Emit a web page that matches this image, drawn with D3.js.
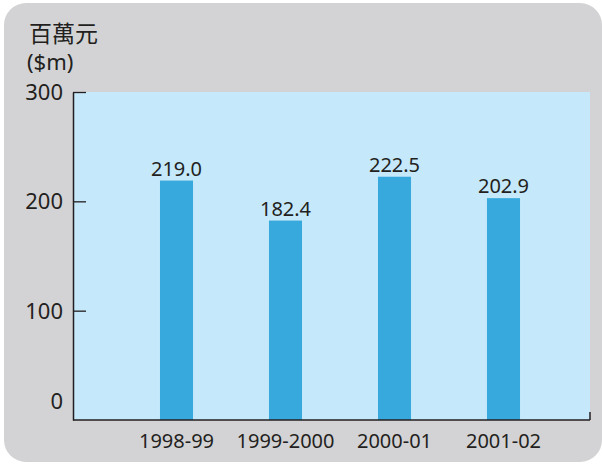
<!DOCTYPE html>
<html>
<head>
<meta charset="utf-8">
<script src="https://cdn.jsdelivr.net/npm/d3@7"></script>
<style>
  body { margin: 0; background: #fff; }
  text { font-family: "Noto Sans", "Noto Sans CJK TC", sans-serif; fill: #231f20; }
</style>
</head>
<body>
<div id="chart"></div>
<script>
const years = ["1998-99", "1999-2000", "2000-01", "2001-02"];
const spending = [219.0, 182.4, 222.5, 202.9];
const yTicks = [0, 100, 200, 300];

const width = 602, height = 464;

const svg = d3.select("#chart")
	.append("svg")
		.attr("width", width)
		.attr("height", height);

// grey rounded card
svg.append("rect")
	.attr("x", 4).attr("y", 3)
	.attr("width", 598).attr("height", 459)
	.attr("rx", 22)
	.attr("fill", "#d3d3d5");

const plot = {left: 73, right: 590, top: 92, bottom: 420};

const y = d3.scaleLinear()
	.domain([0, 300])
	.range([plot.bottom, plot.top]);

const x = d3.scaleBand()
	.domain(years)
	.range([122, 558])
	.paddingInner(0.697)
	.paddingOuter(0.3485);

// plot background
svg.append("rect")
	.attr("x", plot.left).attr("y", plot.top)
	.attr("width", plot.right - plot.left)
	.attr("height", plot.bottom - plot.top)
	.attr("fill", "#c5e8fa");

// bars
svg.selectAll(".bar")
	.data(spending)
	.enter()
	.append("rect")
		.attr("class", "bar")
		.attr("x", (d, i) => x(years[i]))
		.attr("y", d => y(d))
		.attr("width", x.bandwidth())
		.attr("height", d => y(0) - y(d))
		.attr("fill", "#38a9dc");

// value labels
svg.selectAll(".val")
	.data(spending)
	.enter()
	.append("text")
		.attr("x", (d, i) => x(years[i]) + x.bandwidth() / 2)
		.attr("y", d => y(d) - 5)
		.attr("text-anchor", "middle")
		.style("font-size", "20px")
		.text(d => d.toFixed(1));

// y axis (ticks pointing into the plot)
const yAxis = svg.append("g")
	.attr("transform", "translate(" + plot.left + ",0)")
	.call(d3.axisRight(y).tickValues(yTicks).tickSize(13).tickSizeOuter(0).tickFormat(""));
yAxis.select(".domain").attr("stroke", "#231f20").attr("stroke-width", 1.5);
yAxis.selectAll(".tick line").attr("stroke", "#231f20").attr("stroke-width", 1.3);
yAxis.selectAll(".tick").filter(d => d === 0).remove();

// y labels
svg.selectAll(".ylab")
	.data(yTicks)
	.enter()
	.append("text")
		.attr("x", 63)
		.attr("y", d => d === 0 ? y(d) - 11 : y(d) + 8)
		.attr("text-anchor", "end")
		.style("font-size", "22px")
		.text(d => d);

// x axis
svg.append("line")
	.attr("x1", plot.left).attr("x2", plot.right)
	.attr("y1", plot.bottom).attr("y2", plot.bottom)
	.attr("stroke", "#231f20").attr("stroke-width", 1.5);
svg.append("line")
	.attr("x1", plot.right).attr("x2", plot.right)
	.attr("y1", plot.bottom).attr("y2", plot.bottom - 8)
	.attr("stroke", "#231f20").attr("stroke-width", 1.5);

svg.selectAll(".xlab")
	.data(years)
	.enter()
	.append("text")
		.attr("x", d => x(d) + x.bandwidth() / 2)
		.attr("y", 448)
		.attr("text-anchor", "middle")
		.style("font-size", "20px")
		.text(d => d);

// unit title
svg.append("text")
	.attr("x", 29).attr("y", 42)
	.style("font-size", "23px")
	.style("font-family", "'Noto Sans CJK TC', sans-serif")
	.text("百萬元");
svg.append("text")
	.attr("x", 27).attr("y", 70)
	.style("font-size", "22px")
	.text("($m)");
</script>
</body>
</html>
